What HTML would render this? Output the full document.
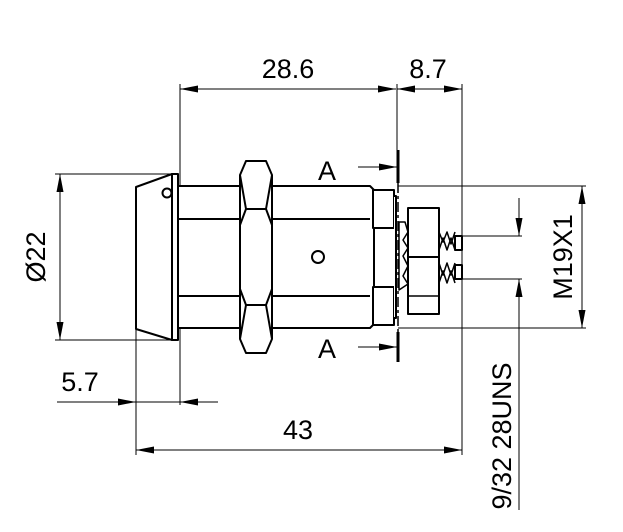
<!DOCTYPE html>
<html><head><meta charset="utf-8"><style>
html,body{margin:0;padding:0;background:#fff;}
svg{display:block;}
text{font-family:"Liberation Sans",sans-serif;font-size:27px;fill:#000;}
</style></head><body>
<svg width="623" height="532" viewBox="0 0 623 532" xmlns="http://www.w3.org/2000/svg">
<defs>
<marker id="ar" viewBox="0 0 18 7" refX="18" refY="3.5" markerWidth="18" markerHeight="7" markerUnits="userSpaceOnUse" orient="auto-start-reverse"><path d="M0,0 L18,3.5 L0,7 z" fill="#000"/></marker>
</defs>
<g stroke="#000" fill="none" stroke-width="1">
<line x1="180" y1="84" x2="180" y2="405"/>
<line x1="397" y1="84" x2="397" y2="150"/>
<line x1="462" y1="84" x2="462" y2="455"/>
<line x1="136" y1="330" x2="136" y2="455"/>
<line x1="55" y1="174" x2="172" y2="174"/>
<line x1="55" y1="340" x2="172" y2="340"/>
<line x1="398" y1="186" x2="586" y2="186"/>
<line x1="398" y1="328" x2="586" y2="328"/>
<line x1="462" y1="236" x2="522" y2="236"/>
<line x1="462" y1="279" x2="522" y2="279"/>
<line x1="180" y1="89" x2="396" y2="89" marker-start="url(#ar)" marker-end="url(#ar)"/>
<line x1="397" y1="89" x2="462" y2="89" marker-start="url(#ar)" marker-end="url(#ar)"/>
<line x1="60" y1="174" x2="60" y2="340" marker-start="url(#ar)" marker-end="url(#ar)"/>
<line x1="582" y1="186" x2="582" y2="328" marker-start="url(#ar)" marker-end="url(#ar)"/>
<line x1="57" y1="402" x2="136" y2="402" marker-end="url(#ar)"/>
<line x1="218" y1="402" x2="180" y2="402" marker-end="url(#ar)"/>
<line x1="136" y1="402" x2="180" y2="402"/>
<line x1="136" y1="450" x2="462" y2="450" marker-start="url(#ar)" marker-end="url(#ar)"/>
<line x1="519" y1="198" x2="519" y2="236" marker-end="url(#ar)"/>
<line x1="519" y1="510" x2="519" y2="279" marker-end="url(#ar)"/>
<line x1="358" y1="167" x2="397" y2="167" marker-end="url(#ar)"/>
<line x1="358" y1="347" x2="397" y2="347" marker-end="url(#ar)"/>
</g>
<g stroke="#000" stroke-width="3">
<line x1="398" y1="150" x2="398" y2="183"/>
<line x1="398" y1="332" x2="398" y2="362"/>
</g>
<line x1="398" y1="183" x2="398" y2="332" stroke="#000" stroke-width="1.5" stroke-dasharray="10,3,3,3"/>
<g stroke="#000" fill="#fff" stroke-width="2" stroke-linejoin="round">
<path d="M136,187 L172,174 L172,340 L136,329 Z"/>
<rect x="172" y="174" width="6" height="166"/>
<circle cx="167" cy="193" r="4.5"/>
<path d="M178,186 L370,186 L374,190 L374,324 L370,328 L178,328 Z"/>
<line x1="178" y1="219" x2="370" y2="219"/>
<line x1="178" y1="296" x2="370" y2="296"/>
<rect x="373" y="190" width="21" height="38"/>
<rect x="373" y="287" width="21" height="38"/>
<path d="M394,196 L396,196 L396,318 L394,318"/>
<circle cx="318" cy="257" r="6"/>
<path d="M246,161 L266,161 L272,175 L272,339 L266,353 L246,353 L240,339 L240,175 Z"/>
<path d="M246,209 L266,209 L272,225 L272,289 L266,305 L246,305 L240,289 L240,225 Z" fill="none"/>
<path d="M240,175 L246,209 M272,175 L266,209 M240,339 L246,305 M272,339 L266,305" fill="none"/>
<path d="M399,222 L405,222 L408,232 L403,240 L408,248 L403,256 L408,266 L403,276 L408,284 L399,290 Z" stroke-width="1.5"/>
<rect x="408" y="208" width="31" height="106"/>
<line x1="408" y1="257" x2="439" y2="257"/>
<line x1="408" y1="296" x2="439" y2="296" stroke-width="1.5"/>
<path d="M439,232 L443,242 L447,232 L451,244 L455,232 M439,250 L443,238 L447,250 L451,238 L455,250" fill="none" stroke-width="1.5"/>
<path d="M439,263 L443,275 L447,263 L451,275 L455,263 M439,283 L443,271 L447,283 L451,271 L455,283" fill="none" stroke-width="1.5"/>
<rect x="455" y="236" width="7" height="14"/>
<rect x="455" y="265" width="7" height="14"/>
</g>
<text x="288" y="78" text-anchor="middle">28.6</text>
<text x="428" y="78" text-anchor="middle">8.7</text>
<text x="327" y="180" text-anchor="middle">A</text>
<text x="327" y="358" text-anchor="middle">A</text>
<text x="80" y="391" text-anchor="middle">5.7</text>
<text x="298" y="439" text-anchor="middle">43</text>
<text transform="translate(45,257) rotate(-90)" text-anchor="middle">Ø22</text>
<text transform="translate(572,257) rotate(-90)" text-anchor="middle">M19X1</text>
<text transform="translate(511,436) rotate(-90)" text-anchor="middle">9/32 28UNS</text>
</svg>
</body></html>
